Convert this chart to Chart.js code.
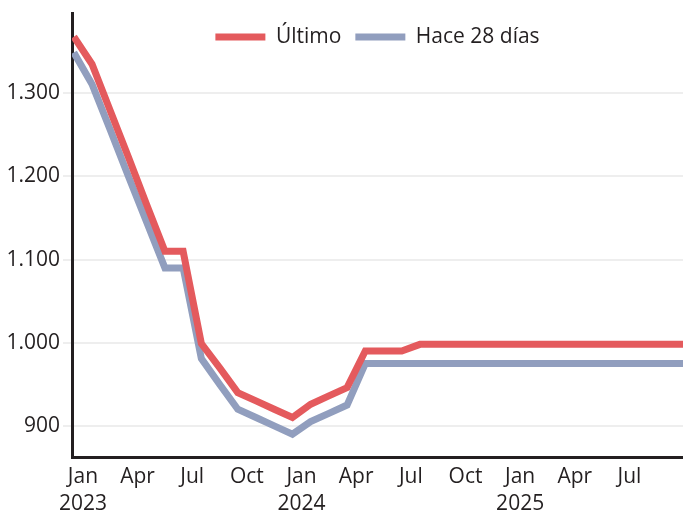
<!DOCTYPE html>
<html>
<head>
<meta charset="utf-8">
<script src="https://cdn.jsdelivr.net/npm/chart.js@4"></script>
<style>
  html, body { margin: 0; padding: 0; background: #fff; }
  #wrap { width: 683px; height: 511px; }
</style>
</head>
<body>
<div id="wrap"><canvas id="myChart"></canvas></div>
<script>
// months counted from Jan 2023 (0 = start of Jan 2023), points sit mid-month
var months = [-0.5, 0.5, 1.5, 2.5, 3.5, 4.5, 5.5, 6.5, 7.5, 8.5, 9.5, 10.5, 11.5,
              12.5, 13.5, 14.5, 15.5, 16.5, 17.5, 18.5, 19.5, 20.5, 21.5, 22.5, 23.5,
              24.5, 25.5, 26.5, 27.5, 28.5, 29.5, 30.5, 31.5, 32.5, 33.5];

var ultimo = [1368, 1335, 1279, 1223, 1166, 1110, 1110, 999, 970, 940, 930, 920, 910,
              926, 936, 946, 990, 990, 990, 998, 998, 998, 998, 998, 998,
              998, 998, 998, 998, 998, 998, 998, 998, 998, 998];

var hace28 = [1349, 1311, 1256, 1200, 1145, 1090, 1090, 981, 950, 920, 910, 900, 890,
              905, 915, 925, 975, 975, 975, 975, 975, 975, 975, 975, 975,
              975, 975, 975, 975, 975, 975, 975, 975, 975, 975];

var seriesNames = ['Último', 'Hace 28 días'];
var seriesColors = ['#e45a5d', '#919ebe'];

var tickMonths = [0, 3, 6, 9, 12, 15, 18, 21, 24, 27, 30];
var monthNames = ['Jan', 'Feb', 'Mar', 'Apr', 'May', 'Jun', 'Jul', 'Aug', 'Sep', 'Oct', 'Nov', 'Dec'];
var yTicks = [900, 1000, 1100, 1200, 1300];

var ink = '#231f20';
var font = { family: "'Open Sans', sans-serif", size: 21, lineHeight: 1.27 };

function toPoints(vals) {
    return vals.map(function (v, i) { return { x: months[i], y: v }; });
}

function fmt(v) {
    // 1300 -> 1.300
    return String(v).replace(/\B(?=(\d{3})+(?!\d))/g, '.');
}

// legend floats over the plot: no height in the layout, real height back for drawing
var legendOverlay = {
    id: 'legendOverlay',
    afterInit: function (chart) {
        var lg = chart.legend;
        var fit = lg.fit.bind(lg);
        lg.fit = function () {
            fit();
            this._realHeight = this.height;
            this.height = 0;
        };
    },
    afterLayout: function (chart) {
        var lg = chart.legend;
        lg.top -= 1;
        lg.height = lg._realHeight;
        lg.bottom = lg.top + lg._realHeight;
    }
};

Chart.defaults.font.family = font.family;
Chart.defaults.color = ink;

var ctx = document.getElementById('myChart').getContext('2d');
var chart = new Chart(ctx, {
    type: 'line',
    data: {
        datasets: [
            {
                label: seriesNames[0],
                data: toPoints(ultimo),
                borderColor: seriesColors[0],
                backgroundColor: seriesColors[0],
                borderWidth: 7,
                borderJoinStyle: 'miter',
                pointRadius: 0,
                tension: 0
            },
            {
                label: seriesNames[1],
                data: toPoints(hace28),
                borderColor: seriesColors[1],
                backgroundColor: seriesColors[1],
                borderWidth: 7,
                borderJoinStyle: 'miter',
                pointRadius: 0,
                tension: 0
            }
        ]
    },
    options: {
        responsive: true,
        maintainAspectRatio: false,
        animation: false,
        layout: { padding: { top: 11, right: 0, bottom: 0, left: 0 } },
        plugins: {
            tooltip: { enabled: false },
            legend: {
                position: 'top',
                fullSize: false,
                labels: {
                    font: font,
                    color: ink,
                    boxWidth: 50,
                    boxHeight: 7,
                    padding: 14,
                    generateLabels: function (chart) {
                        var items = Chart.defaults.plugins.legend.labels.generateLabels(chart);
                        items.forEach(function (it) {
                            it.fillStyle = it.strokeStyle;
                            it.lineWidth = 0;
                        });
                        return items;
                    }
                }
            }
        },
        scales: {
            x: {
                type: 'linear',
                min: -0.6,
                max: 32.94,
                afterBuildTicks: function (axis) {
                    axis.ticks = tickMonths.map(function (m) { return { value: m }; });
                },
                afterFit: function (axis) { axis.height = 54; },
                grid: { display: false, drawTicks: false },
                border: { display: true, color: ink, width: 3 },
                ticks: {
                    font: font,
                    color: ink,
                    padding: 7,
                    maxRotation: 0,
                    autoSkip: false,
                    callback: function (v) {
                        var m = ((v % 12) + 12) % 12;
                        var name = monthNames[m];
                        if (m === 0) return [name, String(2023 + Math.floor(v / 12))];
                        return name;
                    }
                }
            },
            y: {
                min: 862.5,
                max: 1396,
                afterBuildTicks: function (axis) {
                    axis.ticks = yTicks.map(function (v) { return { value: v }; });
                },
                afterFit: function (axis) { axis.width = 72; },
                grid: {
                    color: '#eeeeee',
                    lineWidth: 2,
                    tickLength: 9,
                    tickColor: '#eeeeee'
                },
                border: { display: true, color: ink, width: 3 },
                ticks: {
                    font: { family: font.family, size: font.size, lineHeight: 1 },
                    color: ink,
                    padding: 3,
                    callback: function (v) { return fmt(v); }
                }
            }
        }
    },
    plugins: [legendOverlay]
});
</script>
</body>
</html>
